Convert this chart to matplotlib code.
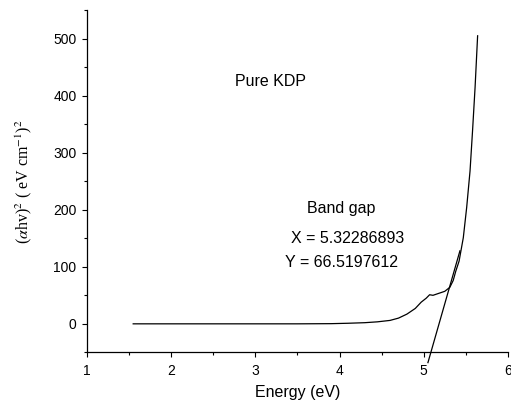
import numpy as np
import matplotlib.pyplot as plt
from matplotlib.ticker import MultipleLocator

plt.rcParams['font.family'] = ['Liberation Sans', 'DejaVu Sans']
plt.rcParams['mathtext.fontset'] = 'stix'

# absorption curve
energy = [1.55, 2.0, 2.5, 3.0, 3.5, 3.9, 4.1, 4.3, 4.45, 4.6, 4.7, 4.8, 4.9,
          4.97, 5.03, 5.07, 5.11, 5.17, 5.25, 5.31, 5.35, 5.38, 5.42, 5.47,
          5.51, 5.55, 5.58, 5.61, 5.64]
alpha_hv2 = [0, 0, 0, 0, 0, 0.3, 1, 2, 3.5, 6, 10, 17, 27,
             38, 45, 51, 50, 53, 57, 64, 76, 92, 110, 151,
             204, 268, 339, 415, 505]

# linear fit (tangent) used for the band gap
fit_x = [5.05, 5.43]
fit_y = [-68, 128]

gap_x = 5.32286893
gap_y = 66.5197612

fig = plt.figure(figsize=(5.11, 4.05), dpi=100)
ax = fig.add_axes([0.170, 0.130, 0.824, 0.845])

ax.plot(energy, alpha_hv2, color='black', lw=0.9)
ax.plot(fit_x, fit_y, color='black', lw=0.9, clip_on=False)

ax.set_xlim(1, 6)
ax.set_ylim(-50, 550)
ax.xaxis.set_major_locator(MultipleLocator(1))
ax.xaxis.set_minor_locator(MultipleLocator(0.5))
ax.yaxis.set_major_locator(MultipleLocator(100))
ax.yaxis.set_minor_locator(MultipleLocator(50))

for side in ['top', 'right']:
    ax.spines[side].set_visible(False)
for side in ['left', 'bottom']:
    ax.spines[side].set_linewidth(0.9)

ax.tick_params(which='major', direction='out', length=3.5, width=0.8,
               labelsize=10, pad=4)
ax.tick_params(which='minor', direction='out', length=2, width=0.8)
ax.tick_params(axis='x', which='major', pad=5)

ax.set_xlabel('Energy (eV)', fontsize=11.5, labelpad=5)
ax.set_ylabel(r'($\alpha$hv)$^2$ ( eV cm$^{-1}$)$^2$',
              family='Liberation Serif', fontsize=11.5, labelpad=14)

ax.text(2.76, 425, 'Pure KDP', fontsize=11.5, va='center')
ax.text(3.61, 203, 'Band gap', fontsize=11.5, va='center')
ax.text(3.42, 150, f'X = {gap_x:.8f}', fontsize=11.5, va='center')
ax.text(3.35, 107, f'Y = {gap_y:.7f}', fontsize=11.5, va='center')

fig.savefig('out.png', dpi=100)
